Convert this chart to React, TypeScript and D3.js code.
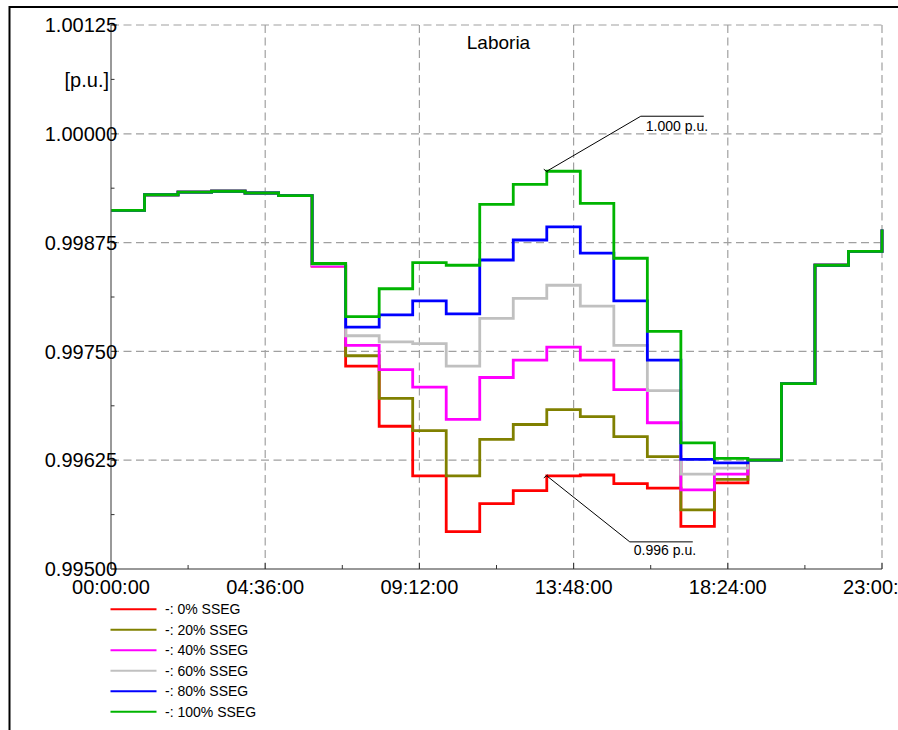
import React from "react";
import * as d3 from "d3";

const hours = d3.range(0, 24);
const xTickMinutes = [0, 276, 552, 828, 1104, 1380];
const xTickLabels = ["00:00:00", "04:36:00", "09:12:00", "13:48:00", "18:24:00", "23:00:00"];
const yTicks = [0.995, 0.99625, 0.9975, 0.99875, 1.0, 1.00125];
const yTickLabels = ["0.99500", "0.99625", "0.99750", "0.99875", "1.00000", "1.00125"];

const red = [0.99912, 0.9993, 0.99933, 0.99934, 0.99932, 0.99929, 0.99848, 0.99733, 0.99664, 0.99607, 0.99543, 0.99575, 0.9959, 0.99607, 0.99608, 0.99598, 0.99593, 0.99549, 0.99599, 0.99625, 0.99713, 0.99849, 0.99865, 0.9989];
const olive = [0.99912, 0.9993, 0.99933, 0.99934, 0.99932, 0.99929, 0.99849, 0.99745, 0.99696, 0.99659, 0.99607, 0.99649, 0.99666, 0.99683, 0.99675, 0.99652, 0.99629, 0.99568, 0.99603, 0.99625, 0.99713, 0.99849, 0.99865, 0.9989];
const magenta = [0.99912, 0.9993, 0.99933, 0.99934, 0.99932, 0.99929, 0.99848, 0.99757, 0.99729, 0.99709, 0.99672, 0.9972, 0.9974, 0.99755, 0.9974, 0.99706, 0.99668, 0.99591, 0.99609, 0.99625, 0.99713, 0.99849, 0.99865, 0.9989];
const gray = [0.99912, 0.9993, 0.99933, 0.99934, 0.99932, 0.99929, 0.9985, 0.99768, 0.99761, 0.99759, 0.99733, 0.99788, 0.99811, 0.99826, 0.99802, 0.99757, 0.99705, 0.99609, 0.99616, 0.99625, 0.99713, 0.99849, 0.99865, 0.9989];
const blue = [0.99912, 0.9993, 0.99933, 0.99934, 0.99932, 0.99929, 0.99851, 0.99778, 0.99792, 0.99808, 0.99793, 0.99855, 0.99878, 0.99893, 0.99863, 0.99808, 0.9974, 0.99626, 0.99622, 0.99625, 0.99713, 0.99849, 0.99865, 0.9989];
const green = [0.99912, 0.9993, 0.99933, 0.99934, 0.99932, 0.99929, 0.99851, 0.9979, 0.99822, 0.99852, 0.99849, 0.99919, 0.99942, 0.99957, 0.9992, 0.99857, 0.99773, 0.99645, 0.99627, 0.99625, 0.99713, 0.99849, 0.99865, 0.9989];

const seriesNames = ["-: 0% SSEG", "-: 20% SSEG", "-: 40% SSEG", "-: 60% SSEG", "-: 80% SSEG", "-: 100% SSEG"];
const seriesData = [red, olive, magenta, gray, blue, green];
const seriesColors = ["#ff0000", "#808000", "#ff00ff", "#c0c0c0", "#0000ff", "#00b400"];

const annotHour = 13;
const annotTop = "1.000 p.u.";
const annotBottom = "0.996 p.u.";

const W = 898;
const H = 730;
const left = 111;
const right = 882;
const top = 25;
const bottom = 569;

export default function App() {
  const x = d3.scaleLinear().domain([0, 1380]).range([left, right]);
  const y = d3.scaleLinear().domain([0.995, 1.00125]).range([bottom, top]);
  const line = d3
    .line<number>()
    .x((_, i) => x(hours[i] * 60))
    .y((d) => y(d))
    .curve(d3.curveStepAfter);

  const minorX = d3.range(0, 1380 + 1, 138);
  const minorY = d3.range(0, 11).map((i) => 0.995 + i * 0.000625);
  const font = "'Liberation Sans', Arial, sans-serif";

  const gTopX = x(annotHour * 60);
  const gTopY = y(green[annotHour]);
  const rBotY = y(red[annotHour]);

  return (
    <svg
      width={W}
      height={H}
      style={{ position: "absolute", left: 0, top: 0, background: "#fff" }}
      fontFamily={font}
    >
      <rect x={0} y={0} width={W} height={H} fill="#fff" />
      <rect x={9.5} y={7} width={W + 20} height={H + 20} fill="none" stroke="#000" strokeWidth={2} />

      {/* grid */}
      {xTickMinutes.slice(1).map((m) => (
        <line key={"gx" + m} x1={x(m)} x2={x(m)} y1={top} y2={bottom} stroke="#a0a0a0" strokeWidth={1.2} strokeDasharray="8,4.5" />
      ))}
      {yTicks.slice(1).map((v) => (
        <line key={"gy" + v} x1={left} x2={right} y1={y(v)} y2={y(v)} stroke="#a0a0a0" strokeWidth={1.2} strokeDasharray="8,4.5" />
      ))}

      {/* series */}
      {seriesData.map((s, i) => (
        <path key={"s" + i} d={line(s) || ""} fill="none" stroke={seriesColors[i]} strokeWidth={2.8} strokeLinejoin="miter" />
      ))}

      {/* axes */}
      <line x1={left} x2={left} y1={top} y2={bottom} stroke="#555" strokeWidth={1.2} />
      <line x1={left} x2={right} y1={bottom} y2={bottom} stroke="#333" strokeWidth={1.2} />
      {minorY.map((v, i) => (
        <line key={"ty" + i} x1={left} x2={left + (i % 2 === 0 ? 6 : 3.5)} y1={y(v)} y2={y(v)} stroke="#333" strokeWidth={1} />
      ))}
      {minorX.map((m, i) => (
        <line key={"tx" + i} x1={x(m)} x2={x(m)} y1={bottom} y2={bottom - (i % 2 === 0 ? 6 : 4)} stroke="#333" strokeWidth={1} />
      ))}

      {yTicks.map((v, i) => (
        <text key={"yl" + i} x={117} y={y(v)} dy="0.36em" textAnchor="end" fontSize={20} fill="#000">
          {yTickLabels[i]}
        </text>
      ))}
      <text x={109} y={y(1.000625)} dy="0.36em" textAnchor="end" fontSize={20} fill="#000">
        [p.u.]
      </text>
      {xTickMinutes.map((m, i) => (
        <text key={"xl" + i} x={x(m)} y={594} textAnchor="middle" fontSize={20} fill="#000">
          {xTickLabels[i]}
        </text>
      ))}

      <text x={498.5} y={49} textAnchor="middle" fontSize={19} fill="#000">
        Laboria
      </text>

      {/* annotations */}
      <polyline points={`${gTopX},${gTopY} ${gTopX + 94},${gTopY - 55} ${gTopX + 157},${gTopY - 55}`} fill="none" stroke="#000" strokeWidth={1} />
      <line x1={gTopX - 3} x2={gTopX + 1} y1={gTopY - 2} y2={gTopY + 1} stroke="#000" strokeWidth={1} />
      <text x={gTopX + 99} y={gTopY - 40.5} fontSize={14} fill="#000">
        {annotTop}
      </text>
      <polyline points={`${gTopX},${rBotY} ${gTopX + 83},${rBotY + 66} ${gTopX + 146},${rBotY + 66}`} fill="none" stroke="#000" strokeWidth={1} />
      <line x1={gTopX - 3} x2={gTopX + 1} y1={rBotY + 2} y2={rBotY - 1} stroke="#000" strokeWidth={1} />
      <text x={gTopX + 87} y={rBotY + 79} fontSize={14} fill="#000">
        {annotBottom}
      </text>

      {/* legend */}
      {seriesNames.map((n, i) => {
        const ly = 609.3 + i * 20.5;
        return (
          <g key={"lg" + i}>
            <line x1={110.5} x2={156.5} y1={ly} y2={ly} stroke={seriesColors[i]} strokeWidth={2} />
            <text x={165} y={ly} dy="0.36em" fontSize={14} fill="#000">
              {n}
            </text>
          </g>
        );
      })}
    </svg>
  );
}
